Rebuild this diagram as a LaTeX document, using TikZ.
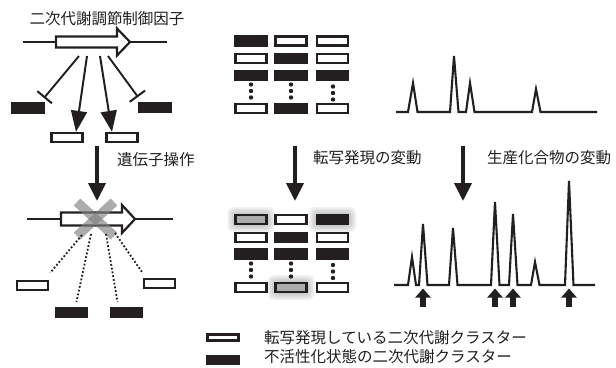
\documentclass[tikz,border=0pt]{standalone}
\usepackage{fontspec}
\newfontfamily\jp{Noto Sans CJK JP}
\usetikzlibrary{arrows.meta,calc}
\definecolor{ink}{HTML}{231F20}
\tikzset{
  boxbase/.style={rectangle,minimum width=31pt,minimum height=9pt,inner sep=0pt,line width=2.3pt,draw=ink},
  wbox/.style={boxbase,fill=white},
  bbox/.style={boxbase,fill=ink},
  gbox/.style={boxbase,fill=gray!65},
  lbl/.style={font=\jp\fontsize{15.5pt}{16pt}\selectfont,inner sep=0pt,text=ink},
  inhib/.style={line width=1.9pt,draw=ink,-{Bar[width=19pt,line width=2pt]}},
  act/.style={line width=2pt,draw=ink,-{Triangle[length=21pt,width=16pt]}},
  bigdown/.style={line width=4pt,draw=ink,-{Triangle[length=18pt,width=17pt]}},
  uparr/.style={line width=5.5pt,draw=ink,-{Triangle[length=9pt,width=15pt]}},
  dotln/.style={line width=1.8pt,draw=ink,dash pattern=on 1.8pt off 2pt},
  chrom/.style={line width=2.1pt,draw=ink,line join=miter},
  gene/.style={line width=2.2pt,draw=ink,fill=white,line join=miter},
  glow/.style={fill=gray,opacity=0.1,rounded corners=5pt}
}
\newcommand{\glowat}[1]{%
  \foreach \e in {1.5,3,4.5,6,7.5}{\fill[glow] ($(#1)+(-16-\e,-5-\e)$) rectangle ($(#1)+(16+\e,5+\e)$);}}
\newcommand{\vdotsat}[2]{%
  \foreach \dy in {0,6.5,13}{\fill[ink] (#1,#2+\dy) circle (2.2pt);}}
\begin{document}
\begin{tikzpicture}[x=1pt,y=-1pt]
\useasboundingbox (0,0) rectangle (616,367);
\fill[white] (0,0) rectangle (616,367);

% ---------- panel 1 top ----------
\node[lbl] (title) at (107,19) {二次代謝調節制御因子};
\coordinate (l1a) at (23,42); \coordinate (l1b) at (167,42);
\draw[line width=2.2pt,ink] (l1a) -- (l1b);
\draw[gene] (56,36.5) -- (117,36.5) -- (117,28.5) -- (130,42) -- (117,55.5) -- (117,47.5) -- (56,47.5) -- cycle;
\node[bbox] (b1) at (28,108) {};
\node[bbox] (b2) at (155,107.5) {};
\node[wbox] (w1) at (67,137.5) {};
\node[wbox] (w2) at (122,137.5) {};
\coordinate (s1) at (79,56); \coordinate (s2) at (87,56);
\coordinate (s3) at (100,56); \coordinate (s4) at (108,56);
\coordinate (e1) at (44,98); \coordinate (e4) at (138,97);
\draw[inhib] (s1) -- (e1);
\draw[inhib] (s4) -- (e4);
\draw[act] (s2) -- (w1.north -| 76,0);
\draw[act] (s3) -- (w2.north -| 112,0);

% down arrow 1
\coordinate (d1a) at (97,146); \coordinate (d1b) at (97,201);
\draw[bigdown] (d1a) -- (d1b);
\node[lbl,anchor=west] (op) at (117,160) {遺伝子操作};

% ---------- panel 1 bottom ----------
\coordinate (l2a) at (27,219); \coordinate (l2b) at (173,219);
\draw[line width=2.2pt,ink] (l2a) -- (l2b);
\draw[gene] (61,212.5) -- (122,212.5) -- (122,205) -- (135,219) -- (122,233) -- (122,225.5) -- (61,225.5) -- cycle;
\draw[line width=9.5pt,gray,opacity=0.65] (77,202) -- (114,236);
\draw[line width=9.5pt,gray,opacity=0.65] (114,202) -- (77,236);
\node[wbox] (w3) at (32.5,285.5) {};
\node[wbox] (w4) at (159.5,283.5) {};
\node[bbox] (b3) at (71.5,312.5) {};
\node[bbox] (b4) at (126.5,312.5) {};
\coordinate (t1) at (82,235); \coordinate (t2) at (91,234);
\coordinate (t3) at (106,234); \coordinate (t4) at (115,233);
\draw[dotln] (t1) -- ($(w3.north east)+(1,-7)$);
\draw[dotln] (t2) -- ($(b3.north)+(5,-5)$);
\draw[dotln] (t3) -- ($(b4.north)+(-9,-5)$);
\draw[dotln] (t4) -- ($(w4.north west)+(-1,-6)$);

% ---------- panel 2 top ----------
\node[bbox] (g11) at (251,41) {};
\node[wbox] (g12) at (291,41) {};
\node[wbox] (g13) at (332.5,41) {};
\node[wbox] (g21) at (251,58.5) {};
\node[bbox] (g22) at (291,58.5) {};
\node[wbox] (g23) at (332.5,58.5) {};
\node[bbox] (g31) at (251,75.5) {};
\node[bbox] (g32) at (291,75.5) {};
\node[bbox] (g33) at (332.5,75.5) {};
\node[wbox] (g41) at (251,108.5) {};
\node[bbox] (g42) at (291,108.5) {};
\node[wbox] (g43) at (332.5,108.5) {};
\vdotsat{251}{84.5}
\vdotsat{291}{84.5}
\vdotsat{333}{86.5}

% down arrow 2
\coordinate (d2a) at (295,146); \coordinate (d2b) at (295,201);
\draw[bigdown] (d2a) -- (d2b);
\node[lbl,anchor=west] (tx) at (313,158) {転写発現の変動};

% ---------- panel 2 bottom ----------
\glowat{251,219.5}
\glowat{332.5,219.5}
\glowat{291,287.5}
\node[gbox] (h11) at (251,219.5) {};
\node[wbox] (h12) at (291,219.5) {};
\node[bbox] (h13) at (332.5,219.5) {};
\node[wbox] (h21) at (251,237.5) {};
\node[bbox] (h22) at (291,237.5) {};
\node[wbox] (h23) at (332.5,237.5) {};
\node[bbox] (h31) at (251,254) {};
\node[bbox] (h32) at (291,254) {};
\node[bbox] (h33) at (332.5,254) {};
\node[wbox] (h41) at (251,287.5) {};
\node[gbox] (h42) at (291,287.5) {};
\node[wbox] (h43) at (332.5,287.5) {};
\vdotsat{251}{263.5}
\vdotsat{291}{263.5}
\vdotsat{333}{265}

% ---------- panel 3 ----------
\draw[chrom] (396,112) -- (408,112) -- (413,83) -- (417.5,112) -- (450,112) -- (454,56) -- (458.5,112)
  -- (466,112) -- (470,83) -- (474.5,112) -- (532,112) -- (536,89) -- (540.5,112) -- (597,112);

\coordinate (d3a) at (463,146); \coordinate (d3b) at (463,201);
\draw[bigdown] (d3a) -- (d3b);
\node[lbl,anchor=west] (pc) at (487,158) {生産化合物の変動};

\draw[chrom] (394,285) -- (408,285) -- (412,257) -- (416,285) -- (419,285) -- (423,224) -- (427.5,285)
  -- (449,285) -- (453,228) -- (457.5,285) -- (491,285) -- (495,202) -- (499.5,285)
  -- (509,285) -- (513,214) -- (517.5,285) -- (531,285) -- (535,262) -- (539.5,285)
  -- (565,285) -- (569,181) -- (573.5,285) -- (595,285);
\foreach \px/\nm in {423/u1,495/u2,513/u3,569/u4}{
  \coordinate (\nm a) at (\px,307); \coordinate (\nm b) at (\px,288.5);
  \draw[uparr] (\nm a) -- (\nm b);}

% ---------- legend ----------
\node[wbox,minimum height=6pt] (lw) at (223,337.5) {};
\node[bbox,minimum height=8pt] (lb) at (223,360) {};
\node[lbl,anchor=west] (lt1) at (264,337.5) {転写発現している二次代謝クラスター};
\node[lbl,anchor=west] (lt2) at (264,357) {不活性化状態の二次代謝クラスター};
\end{tikzpicture}
\end{document}
